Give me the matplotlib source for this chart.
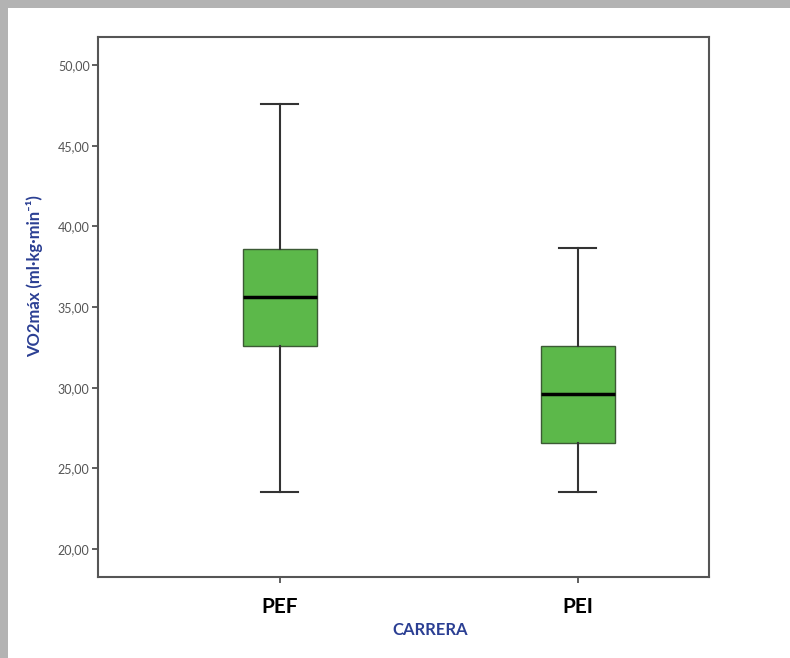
import matplotlib.pyplot as plt
from matplotlib.patches import Rectangle

# values (VO2max, ml/kg/min)
groups = ["PEF", "PEI"]
whisker_low = [23.55, 23.55]
q1 = [32.6, 26.6]
medians = [35.65, 29.6]
q3 = [38.6, 32.6]
whisker_high = [47.6, 38.65]
yticks = [20, 25, 30, 35, 40, 45, 50]

plt.rcParams["font.family"] = ["Lato", "DejaVu Sans"]

fig = plt.figure(figsize=(7.9, 6.58), dpi=100)
# grey frame at the top and left of the picture
fig.patches.append(Rectangle((0, 1 - 8 / 658), 1, 8 / 658, transform=fig.transFigure,
                             facecolor="#b3b3b3", edgecolor="none"))
fig.patches.append(Rectangle((0, 0), 8 / 790, 1, transform=fig.transFigure,
                             facecolor="#b3b3b3", edgecolor="none"))
ax = fig.add_axes([0.124, 0.123, 0.7735, 0.8207])

stats = []
for i in range(len(groups)):
    stats.append({"label": groups[i], "whislo": whisker_low[i], "q1": q1[i],
                  "med": medians[i], "q3": q3[i], "whishi": whisker_high[i],
                  "fliers": []})

ax.bxp(stats, positions=[1, 2], widths=0.25, patch_artist=True,
       showfliers=False,
       boxprops=dict(facecolor="#5cb84a", edgecolor="#3c5a35", linewidth=1),
       medianprops=dict(color="black", linewidth=2.5),
       whiskerprops=dict(color="#333333", linewidth=1.5),
       capprops=dict(color="#333333", linewidth=1.5),
       capwidths=0.125)

ax.set_xlim(0.39, 2.44)
ax.set_ylim(18.26, 51.74)
ax.set_yticks(yticks)
ax.set_yticklabels([("%.2f" % v).replace(".", ",") for v in yticks],
                   fontsize=9, color="#555555")
ax.set_xticks([1, 2])
ax.set_xticklabels(groups, fontsize=15, fontweight="bold", color="black")
ax.tick_params(axis="y", length=4, width=1.2, color="#444444", pad=2)
ax.tick_params(axis="x", length=4, width=1.2, color="#444444", pad=10)

for s in ax.spines.values():
    s.set_color("#555555")
    s.set_linewidth(1.5)

fig.text(35 / 790, 1 - 276 / 658, "VO2máx (ml·kg·min⁻¹)", rotation=90,
         ha="center", va="center", fontsize=12, fontweight="bold",
         color="#2b3f93")
fig.text(430 / 790, 1 - 630 / 658, "CARRERA", ha="center", va="center",
         fontsize=12, fontweight="bold", color="#2b3f93")

fig.savefig("out.png", dpi=100)
